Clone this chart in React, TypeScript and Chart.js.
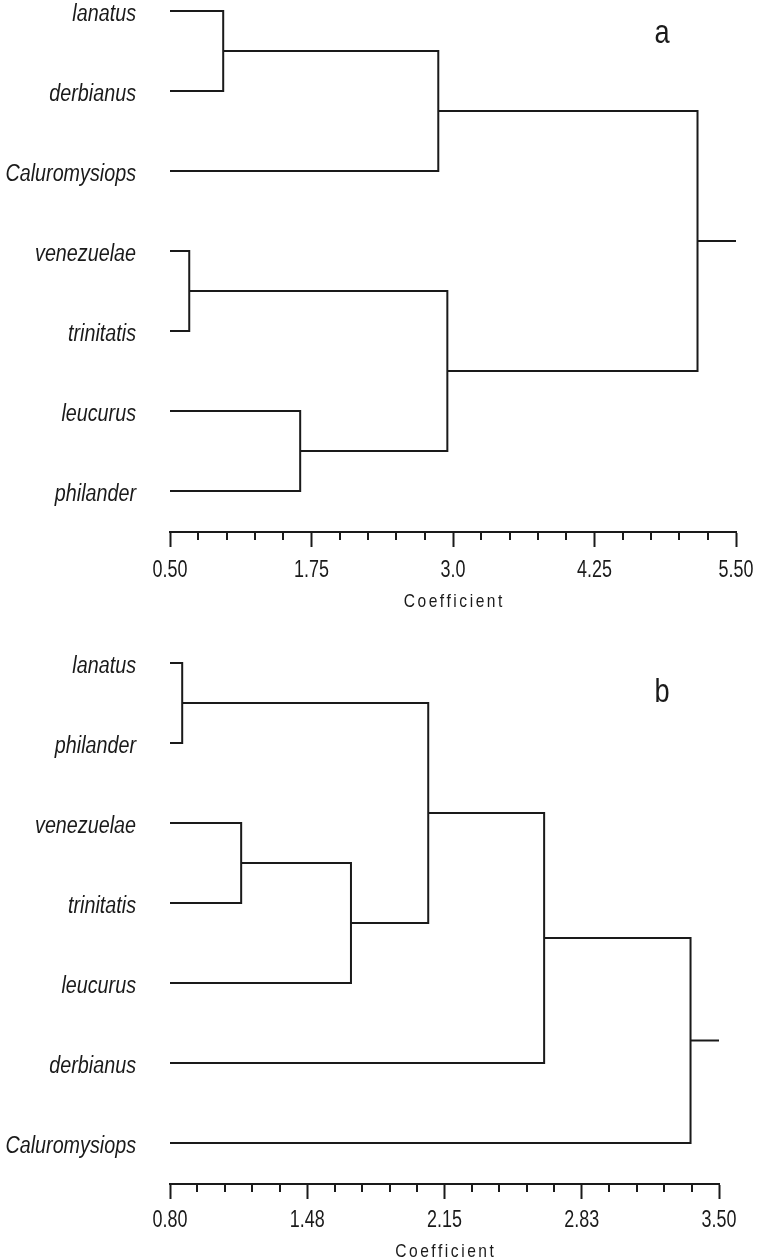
import React, { useEffect, useRef } from 'react';
import { Chart, registerables } from 'chart.js';

Chart.register(...registerables);

// ---------- Panel a data ----------
const leavesA = ['lanatus', 'derbianus', 'Caluromysiops', 'venezuelae', 'trinitatis', 'leucurus', 'philander'];
// merge k joins node leftA[k] with node rightA[k]; the new node gets index leaves.length + k
const leftA = [0, 3, 5, 7, 8, 10];
const rightA = [1, 4, 6, 2, 9, 11];
const heightsA = [0.97, 0.67, 1.65, 2.87, 2.95, 5.16];
const rootEndA = 5.5;
const majorTicksA = [0.5, 1.75, 3.0, 4.25, 5.5];
const tickLabelsA = ['0.50', '1.75', '3.0', '4.25', '5.50'];

// ---------- Panel b data ----------
const leavesB = ['lanatus', 'philander', 'venezuelae', 'trinitatis', 'leucurus', 'derbianus', 'Caluromysiops'];
const leftB = [0, 2, 8, 7, 10, 11];
const rightB = [1, 3, 4, 9, 5, 6];
const heightsB = [0.86, 1.15, 1.69, 2.07, 2.64, 3.36];
const rootEndB = 3.5;
const majorTicksB = [0.8, 1.475, 2.15, 2.825, 3.5];
const tickLabelsB = ['0.80', '1.48', '2.15', '2.83', '3.50'];

const axisTitle = 'Coefficient';

const INK = '#1a1a1a';
const FAMILY = '"Liberation Sans", Arial, sans-serif';

function buildDatasets(leaves: string[], left: number[], right: number[], heights: number[], base: number, rootEnd: number) {
  const nx: number[] = leaves.map(() => base);
  const ny: number[] = leaves.map((_, i) => i);
  const sets: any[] = [];
  heights.forEach((h, k) => {
    const a = left[k];
    const b = right[k];
    sets.push({
      data: [
        { x: nx[a], y: ny[a] },
        { x: h, y: ny[a] },
        { x: h, y: ny[b] },
        { x: nx[b], y: ny[b] },
      ],
    });
    nx.push(h);
    ny.push((ny[a] + ny[b]) / 2);
  });
  const r = nx.length - 1;
  sets.push({ data: [{ x: nx[r], y: ny[r] }, { x: rootEnd, y: ny[r] }] });
  return sets.map((s) => ({
    ...s,
    showLine: true,
    borderColor: INK,
    borderWidth: 2,
    borderJoinStyle: 'miter',
    borderCapStyle: 'butt',
    pointRadius: 0,
    pointHoverRadius: 0,
    tension: 0,
    fill: false,
    clip: false,
  }));
}

// draw horizontally condensed text (narrow face emulation)
function narrowText(
  ctx: CanvasRenderingContext2D,
  text: string,
  x: number,
  y: number,
  font: string,
  squeeze: number,
  align: CanvasTextAlign,
  spacing = 0
) {
  ctx.save();
  ctx.translate(x, y);
  ctx.scale(squeeze, 1);
  ctx.font = font;
  ctx.textBaseline = 'alphabetic';
  if (spacing) {
    try { (ctx as any).letterSpacing = `${spacing}px`; } catch (e) { /* ignore */ }
    const w = ctx.measureText(text).width - spacing;
    ctx.textAlign = 'left';
    const start = align === 'center' ? -w / 2 : align === 'right' ? -w : 0;
    ctx.fillText(text, start, 0);
  } else {
    ctx.textAlign = align;
    ctx.fillText(text, 0, 0);
  }
  ctx.restore();
}

type PanelProps = {
  leaves: string[];
  left: number[];
  right: number[];
  heights: number[];
  rootEnd: number;
  ticks: number[];
  tickLabels: string[];
  top: number;
  height: number;
  plotRight: number;
  tickBaseline: number;
  titleBaseline: number;
  letter: string;
  letterX: number;
  letterY: number;
};

const PLOT_LEFT = 170;
const PLOT_BOTTOM = 532;
const FIRST_LEAF = 11;
const LEAF_STEP = 80;
const LABEL_RIGHT = 136;

function Dendrogram(p: PanelProps) {
  const ref = useRef<HTMLCanvasElement | null>(null);
  useEffect(() => {
    if (!ref.current) return;
    const min = p.ticks[0];
    const max = p.ticks[p.ticks.length - 1];
    const minor: number[] = [];
    for (let i = 0; i < p.ticks.length - 1; i++) {
      for (let j = 1; j < 5; j++) minor.push(p.ticks[i] + ((p.ticks[i + 1] - p.ticks[i]) * j) / 5);
    }
    const overlay = {
      id: 'overlay',
      afterDraw(chart: any) {
        const ctx: CanvasRenderingContext2D = chart.ctx;
        const xs = chart.scales.x;
        const ys = chart.scales.y;
        const area = chart.chartArea;
        ctx.save();
        // minor tick marks
        ctx.strokeStyle = INK;
        ctx.lineWidth = 2;
        minor.forEach((v) => {
          const px = Math.round(xs.getPixelForValue(v));
          ctx.beginPath();
          ctx.moveTo(px, area.bottom);
          ctx.lineTo(px, area.bottom + 8);
          ctx.stroke();
        });
        ctx.fillStyle = INK;
        // leaf labels
        p.leaves.forEach((name, i) => {
          const py = ys.getPixelForValue(i);
          narrowText(ctx, name, LABEL_RIGHT, py + 10, `italic 23.5px ${FAMILY}`, 0.84, 'right');
        });
        // x tick labels
        p.ticks.forEach((v, i) => {
          narrowText(ctx, p.tickLabels[i], xs.getPixelForValue(v), p.tickBaseline, `23px ${FAMILY}`, 0.78, 'center');
        });
        // axis title
        narrowText(ctx, axisTitle, (area.left + area.right) / 2, p.titleBaseline, `19px ${FAMILY}`, 0.82, 'center', 3.1);
        // panel letter
        narrowText(ctx, p.letter, p.letterX, p.letterY, `34px ${FAMILY}`, 0.8, 'center');
        ctx.restore();
      },
    };
    const chart = new Chart(ref.current, {
      type: 'scatter',
      data: { datasets: buildDatasets(p.leaves, p.left, p.right, p.heights, min, p.rootEnd) },
      options: {
        responsive: false,
        animation: false,
        events: [],
        layout: { padding: { left: 0, right: 765 - p.plotRight, top: 0, bottom: 0 } },
        plugins: { legend: { display: false }, tooltip: { enabled: false }, title: { display: false } },
        scales: {
          x: {
            type: 'linear',
            position: 'bottom',
            min,
            max,
            afterBuildTicks: (s: any) => {
              s.ticks = p.ticks.map((v) => ({ value: v }));
            },
            afterFit: (s: any) => {
              s.height = p.height - PLOT_BOTTOM;
              s.paddingLeft = 0;
              s.paddingRight = 0;
            },
            grid: {
              display: true,
              drawOnChartArea: false,
              drawTicks: true,
              tickLength: 15,
              tickWidth: 2,
              tickColor: INK,
            },
            border: { display: true, color: INK, width: 2 },
            ticks: { display: false, autoSkip: false, maxRotation: 0, minRotation: 0 },
          },
          y: {
            type: 'linear',
            reverse: true,
            min: -FIRST_LEAF / LEAF_STEP,
            max: (PLOT_BOTTOM - FIRST_LEAF) / LEAF_STEP,
            afterBuildTicks: (s: any) => {
              s.ticks = p.leaves.map((_, i) => ({ value: i }));
            },
            afterFit: (s: any) => {
              s.width = PLOT_LEFT;
              s.paddingTop = 0;
              s.paddingBottom = 0;
            },
            grid: { display: false, drawTicks: false },
            border: { display: false },
            ticks: { display: false, autoSkip: false },
          },
        },
      } as any,
      plugins: [overlay],
    });
    return () => chart.destroy();
  }, []);
  return (
    <canvas
      ref={ref}
      width={765}
      height={p.height}
      style={{ position: 'absolute', left: 0, top: p.top, width: 765, height: p.height }}
    />
  );
}

export default function App() {
  return (
    <div style={{ position: 'absolute', left: 0, top: 0, width: 765, height: 1259, background: '#ffffff' }}>
      <Dendrogram
        leaves={leavesA}
        left={leftA}
        right={rightA}
        heights={heightsA}
        rootEnd={rootEndA}
        ticks={majorTicksA}
        tickLabels={tickLabelsA}
        top={0}
        height={625}
        plotRight={736}
        tickBaseline={577.3}
        titleBaseline={607}
        letter="a"
        letterX={662}
        letterY={43}
      />
      <Dendrogram
        leaves={leavesB}
        left={leftB}
        right={rightB}
        heights={heightsB}
        rootEnd={rootEndB}
        ticks={majorTicksB}
        tickLabels={tickLabelsB}
        top={652}
        height={607}
        plotRight={719}
        tickBaseline={575}
        titleBaseline={604.5}
        letter="b"
        letterX={662}
        letterY={50}
      />
    </div>
  );
}
